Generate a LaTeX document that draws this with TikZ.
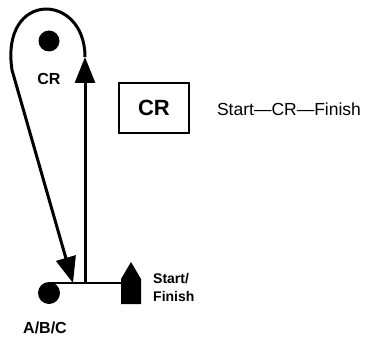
\documentclass[tikz,border=0pt]{standalone}
\usepackage{fontspec}
\setmainfont{Liberation Sans}
\usetikzlibrary{arrows.meta}
\begin{document}
\begin{tikzpicture}[x=1pt,y=-1pt,
  dot/.style={circle,fill=black,inner sep=0pt},
  bigarrow/.style={line width=3pt,-{Triangle[length=26pt,width=20pt]}},
  lbl/.style={font=\bfseries\fontsize{16}{18}\selectfont,inner sep=0pt},
  base/.style={line width=1.4pt}]
\useasboundingbox (0,0) rectangle (371,339);
% dots
\node[dot,minimum size=21pt] (crdot) at (49,41) {};
\node[dot,minimum size=22pt] (abcdot) at (49,293) {};
\node[lbl] (crlbl) at (49,79) {CR};
\node[lbl] (abclbl) at (45,328) {A/B/C};
% coordinates
\coordinate (baseL) at (49,283);
\coordinate (uptop) at (85,57);
\coordinate (upbase) at (85,283);
\coordinate (downtip) at (73,283);
\coordinate (loopleft) at (12,70);
% start/finish marker
\fill (121,304) -- (141,304) -- (141,279) -- (131,262) -- (121,279) -- cycle;
\coordinate (sf) at (121,283);
\node[lbl,font=\bfseries\fontsize{14}{18}\selectfont,align=left,anchor=north west] (sflbl) at (153,273) {Start/\\Finish};
% baseline
\draw[base] (baseL) -- (sf);
% up arrow
\draw[bigarrow] (upbase) -- (uptop);
% loop and down arrow
\draw[bigarrow,line join=round] (uptop) .. controls (85,-8) and (0,-10) .. (loopleft) -- (downtip);
% box
\node[draw,line width=1.2pt,minimum width=70pt,minimum height=50pt,inner sep=0pt,font=\bfseries\fontsize{22}{24}\selectfont] (crbox) at (154,108) {CR};
\node[inner sep=0pt,font=\fontsize{17.5}{20}\selectfont] (seq) at (289,109) {Start—CR—Finish};
\end{tikzpicture}
\end{document}
